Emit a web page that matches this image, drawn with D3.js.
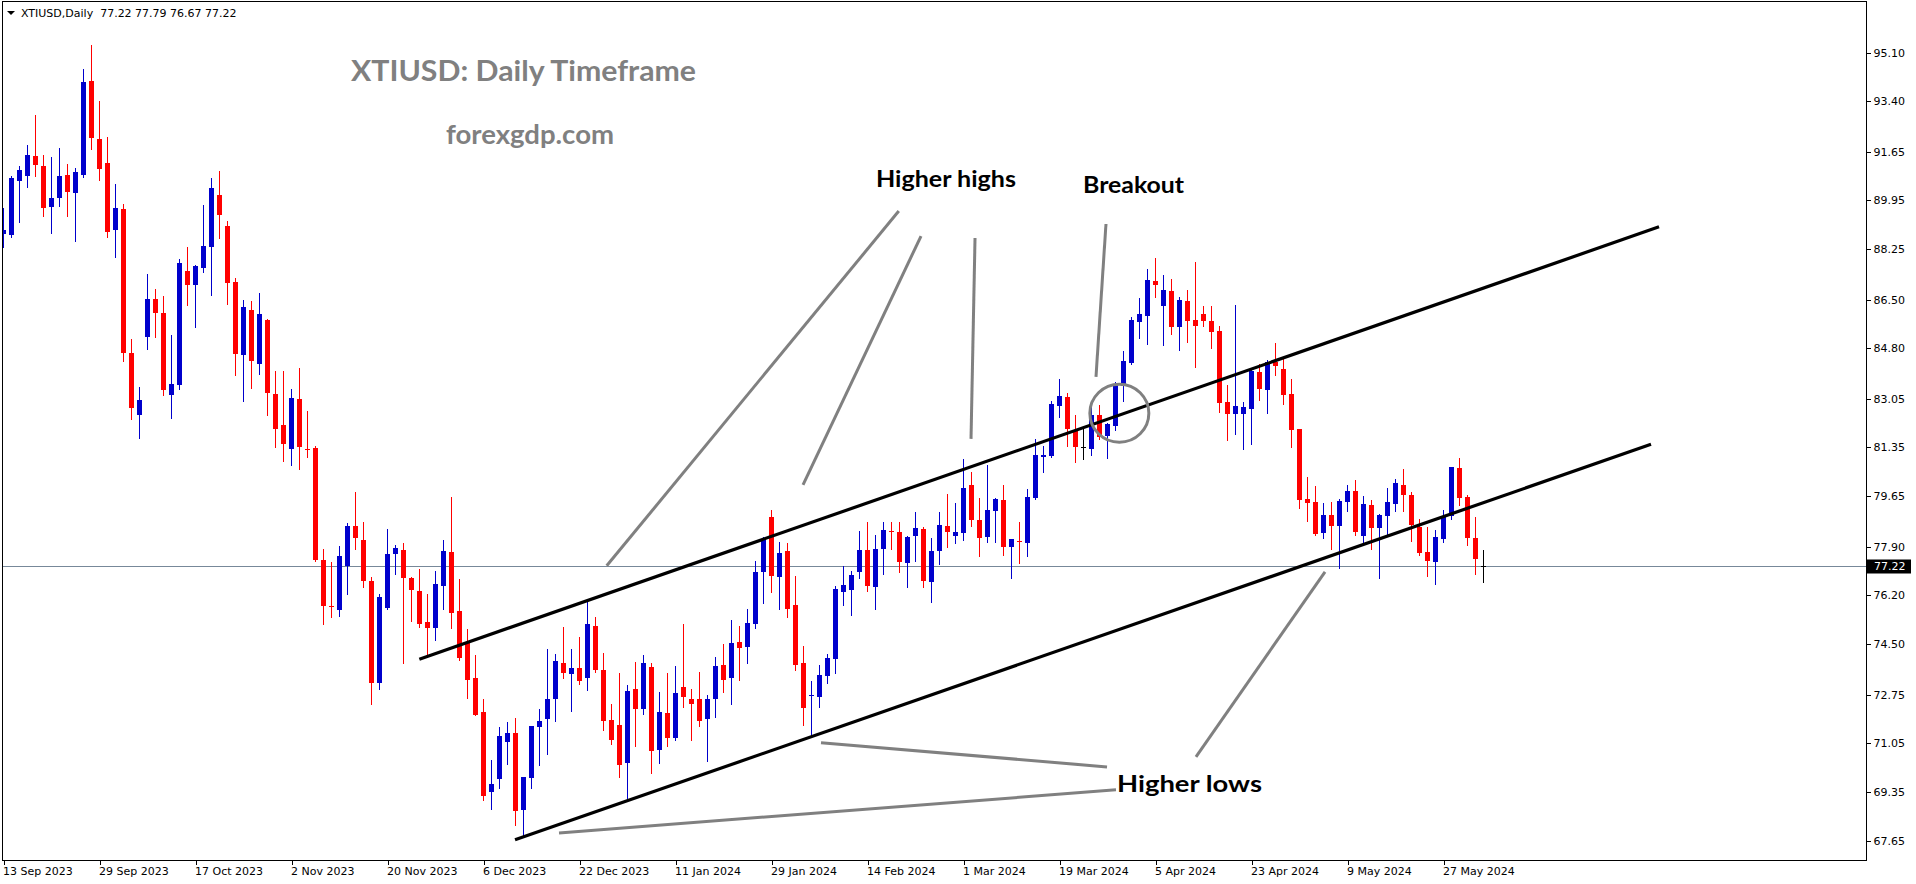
<!DOCTYPE html>
<html><head><meta charset="utf-8">
<script src="https://cdn.jsdelivr.net/npm/d3@7/dist/d3.min.js"></script>
<style>html,body{margin:0;padding:0;background:#fff;overflow:hidden}</style>
</head><body>
<svg id="chart" width="1916" height="884" xmlns="http://www.w3.org/2000/svg"></svg>
<script>
// ---------------- DATA ----------------
const header = "XTIUSD,Daily  77.22 77.79 76.67 77.22";
const openP = [88.78,88.76,90.64,90.81,91.50,91.15,89.73,90.05,90.84,90.22,90.84,94.11,92.09,91.25,88.93,89.65,84.65,82.49,85.21,86.52,
86.03,83.19,83.54,87.50,87.02,87.61,88.34,90.14,89.06,87.11,84.58,86.14,84.27,85.79,83.21,82.13,81.31,83.04,81.31,81.34,
77.44,75.82,75.70,77.23,78.62,78.13,76.70,73.15,75.76,77.65,77.78,76.81,76.36,75.28,75.05,76.54,77.71,75.66,74.55,73.33,
72.15,69.37,69.82,71.11,71.41,68.74,69.86,71.63,71.91,72.61,73.85,73.48,73.68,73.34,75.14,73.61,71.87,71.69,70.38,72.95,
72.26,73.71,70.83,72.11,71.25,73.02,72.60,72.60,71.91,72.61,73.78,73.34,74.58,74.42,75.22,77.00,78.93,76.85,77.75,75.87,
73.85,72.73,72.68,73.41,74.00,76.33,76.40,77.00,77.78,76.50,77.83,78.45,78.41,77.34,78.28,78.51,76.65,77.76,78.62,78.28,
78.38,80.05,78.83,78.25,79.15,79.52,77.90,78.11,78.04,79.60,81.02,81.04,82.81,83.11,81.93,81.37,81.31,82.48,81.76,82.11,
83.50,84.30,85.73,85.94,87.15,86.29,86.80,85.56,86.45,85.79,86.00,85.76,85.41,82.92,82.53,82.53,82.70,83.98,83.36,84.33,
84.08,83.21,81.99,79.56,79.45,78.38,79.00,78.63,79.46,79.84,78.28,79.35,78.56,78.98,79.39,80.05,79.70,78.59,77.71,77.38,
78.18,78.98,80.64,79.63,78.20,77.22];
const highP = [89.68,90.80,91.15,91.87,92.92,91.52,91.46,91.78,91.21,91.08,94.51,95.36,93.41,92.16,90.52,89.83,85.13,83.46,87.39,86.87,
86.62,85.27,87.91,88.33,87.70,89.79,90.73,90.97,89.23,87.25,86.49,86.45,86.73,85.82,84.02,84.02,83.39,84.12,82.62,81.40,
77.82,77.36,77.92,78.73,79.80,78.76,76.84,76.26,78.51,77.96,78.01,76.85,77.12,76.25,77.05,78.13,79.63,76.77,75.03,74.13,
72.60,70.47,71.62,71.80,71.94,69.88,71.66,72.25,74.35,74.16,75.10,74.35,74.76,76.04,75.45,74.20,72.42,73.50,73.08,73.88,
74.13,73.85,72.84,73.50,73.75,75.22,72.94,73.54,72.74,74.06,74.51,75.35,75.14,75.73,77.40,78.24,79.18,78.06,78.03,76.88,
74.44,73.23,73.78,74.16,76.54,77.23,77.05,78.44,78.76,78.30,78.76,78.76,78.76,78.27,79.11,78.58,78.20,79.11,79.73,79.42,
80.95,80.50,79.59,80.74,79.59,80.05,78.17,78.76,79.91,81.65,81.40,82.97,83.72,83.25,82.48,82.00,82.97,82.83,82.20,83.63,
84.71,85.89,86.55,87.56,87.95,87.36,87.22,86.59,86.83,87.81,86.28,86.28,85.58,83.53,86.31,82.93,84.05,84.26,84.40,84.99,
84.43,83.72,81.99,80.33,80.01,79.42,79.45,79.56,80.05,80.22,79.66,79.52,79.04,79.94,80.25,80.60,79.80,78.86,78.58,78.49,
79.18,80.67,80.99,79.70,78.93,77.79];
const lowP = [88.32,88.69,89.20,90.43,90.81,89.42,88.83,89.76,89.42,88.55,90.78,91.73,90.67,88.69,87.99,84.37,82.35,81.69,84.79,85.21,
83.19,82.39,83.40,86.32,85.56,87.47,86.67,88.65,86.36,83.89,82.98,83.43,83.92,82.49,81.38,80.89,80.75,80.61,81.03,77.40,
75.22,75.46,75.50,76.26,77.83,76.50,72.43,72.95,75.71,76.96,73.83,75.32,75.11,74.10,74.66,75.71,75.08,73.95,72.64,72.02,
69.09,68.78,69.51,70.34,68.22,67.80,69.51,70.31,70.69,71.84,73.34,72.19,73.13,72.92,73.55,71.53,71.04,69.89,69.13,70.94,
72.08,70.03,70.38,70.94,71.15,72.33,71.18,71.67,70.45,71.95,72.85,72.43,73.27,73.86,75.05,75.95,76.33,75.74,75.46,73.61,
71.69,71.34,72.33,73.16,73.51,75.87,75.52,76.81,76.37,75.74,76.93,77.82,77.00,76.50,77.41,76.50,75.98,77.31,77.90,78.04,
78.14,78.63,77.58,78.07,78.07,77.62,76.82,77.34,77.58,79.57,80.50,81.01,82.42,81.41,80.86,80.96,81.10,81.66,81.00,81.97,
82.98,84.27,85.17,84.96,86.60,84.93,85.31,84.76,85.03,84.16,85.58,84.83,82.60,81.62,81.83,81.31,81.48,83.01,82.56,83.89,
82.88,81.38,79.26,78.80,78.32,78.21,77.83,77.17,79.15,78.32,78.00,77.83,76.82,78.28,79.15,79.15,78.11,77.62,76.89,76.58,
78.07,78.87,79.33,77.97,76.96,76.67];
const closeP = [88.92,90.73,91.01,91.52,91.20,89.70,90.04,90.80,90.24,90.94,94.07,92.13,91.05,88.86,89.69,84.65,82.74,83.00,86.52,86.04,
83.36,83.56,87.77,87.02,87.67,88.37,90.38,89.45,87.09,84.62,86.24,84.37,86.00,83.26,82.00,81.48,83.07,81.38,81.29,77.44,
75.84,75.81,77.58,78.62,78.21,76.70,73.15,76.15,77.64,77.85,76.82,76.40,75.22,75.05,76.60,77.75,75.60,74.03,73.27,72.05,
69.23,69.64,71.31,71.41,68.71,69.88,71.66,71.83,72.60,73.92,73.51,73.68,73.23,75.21,73.62,71.84,71.15,70.31,72.88,72.23,
73.85,70.80,72.15,71.22,72.81,72.68,72.43,71.84,72.60,73.75,73.27,74.55,74.38,75.24,77.02,78.17,76.89,77.68,75.74,73.78,
72.29,72.75,73.43,74.02,76.43,76.56,76.91,77.78,76.54,77.82,78.48,78.43,77.38,78.24,78.55,76.71,77.75,78.65,78.42,78.41,
79.94,78.84,78.21,79.18,79.56,77.90,78.17,78.09,79.63,81.09,81.09,82.87,83.14,82.00,81.38,81.37,82.48,81.73,82.17,83.53,
84.36,85.79,86.00,87.18,87.02,86.83,85.56,86.49,85.76,85.59,85.76,85.38,82.91,82.53,82.80,82.76,84.01,83.40,84.33,84.20,
83.19,81.97,79.53,79.43,78.35,79.00,78.63,79.49,79.84,78.42,79.39,78.56,79.00,79.45,80.11,79.71,78.66,77.69,77.41,78.25,
78.98,80.67,79.60,78.21,77.48,77.22];
const xTickIndex = [0,12,24,36,48,60,72,84,96,108,120,132,144,156,168,180];
const xTickLabels = ["13 Sep 2023","29 Sep 2023","17 Oct 2023","2 Nov 2023","20 Nov 2023","6 Dec 2023","22 Dec 2023",
  "11 Jan 2024","29 Jan 2024","14 Feb 2024","1 Mar 2024","19 Mar 2024","5 Apr 2024","23 Apr 2024","9 May 2024","27 May 2024"];
const yTicks = [95.10,93.40,91.65,89.95,88.25,86.50,84.80,83.05,81.35,79.65,77.90,76.20,74.50,72.75,71.05,69.35,67.65];
const lastPrice = 77.22;
// trend lines: [[barIndex, price],[barIndex, price]]
const channelLines = [
  [[51.98,73.98],[206.94,89.03]],
  [[63.94,67.69],[205.94,81.46]]
];
const pointerLines = [
  [[111.91,89.58],[75.40,77.23]],
  [[114.69,88.71],[99.94,80.05]],
  [[121.44,88.64],[120.94,81.65]],
  [[137.81,89.13],[136.56,83.81]],
  [[102.19,71.07],[137.94,70.23]],
  [[69.44,67.93],[139.06,69.43]],
  [[165.19,77.02],[149.06,70.58]]
];
const breakoutCircle = [139.48,82.54];
const annotations = [
  {text:"Higher highs", i:109.06, p:90.42, w:140, size:22},
  {text:"Breakout",     i:134.94, p:90.21, w:101, size:22},
  {text:"Higher lows",  i:139.19, p:69.36, w:145, size:23}
];

// ---------------- LAYOUT ----------------
const W = 1916, H = 884;
const plotL = 2.5, plotR = 1866.5, plotT = 1.5, plotB = 860.5;
const svg = d3.select("#chart");
const x = d3.scaleLinear().domain([0, openP.length - 1]).range([3.5, 3.5 + 8 * (openP.length - 1)]);
const y = d3.scaleLinear().domain([67.65, 95.10]).range([841, 52.5]);
const BLUE = "#0000cc", RED = "#ff0000";
const axisFont = "'DejaVu Sans', Verdana, sans-serif";

svg.append("rect").attr("width", W).attr("height", H).attr("fill", "#fff");

const defs = svg.append("defs");
defs.append("clipPath").attr("id", "plotClip").append("rect")
  .attr("x", plotL + 0.5).attr("y", plotT + 0.5).attr("width", plotR - plotL - 1).attr("height", plotB - plotT - 1);

const plot = svg.append("g").attr("clip-path", "url(#plotClip)");

// last price line
plot.append("line")
  .attr("x1", plotL).attr("x2", plotR)
  .attr("y1", Math.round(y(lastPrice)) + 0.5).attr("y2", Math.round(y(lastPrice)) + 0.5)
  .attr("stroke", "#778899").attr("stroke-width", 1).attr("shape-rendering", "crispEdges");

// candles
const bars = d3.range(openP.length).map(i => ({i, o: openP[i], h: highP[i], l: lowP[i], c: closeP[i]}));
const colorOf = d => d.c > d.o ? BLUE : (d.c < d.o ? RED : "#000");
const cg = plot.append("g").attr("shape-rendering", "crispEdges");
cg.selectAll("line.wick").data(bars).join("line").attr("class", "wick")
  .attr("x1", d => x(d.i)).attr("x2", d => x(d.i))
  .attr("y1", d => Math.round(y(d.h))).attr("y2", d => Math.round(y(d.l)) + 1)
  .attr("stroke", colorOf).attr("stroke-width", 1);
cg.selectAll("rect.body").data(bars.filter(d => d.o !== d.c)).join("rect").attr("class", "body")
  .attr("x", d => x(d.i) - 2.5).attr("width", 5)
  .attr("y", d => Math.round(y(Math.max(d.o, d.c))))
  .attr("height", d => Math.max(1, Math.round(y(Math.min(d.o, d.c))) - Math.round(y(Math.max(d.o, d.c)))))
  .attr("fill", colorOf);
cg.selectAll("line.doji").data(bars.filter(d => d.o === d.c)).join("line").attr("class", "doji")
  .attr("x1", d => x(d.i) - 2.5).attr("x2", d => x(d.i) + 2.5)
  .attr("y1", d => Math.round(y(d.o)) + 0.5).attr("y2", d => Math.round(y(d.o)) + 0.5)
  .attr("stroke", "#000").attr("stroke-width", 1);

// channel lines
const lineGen = d3.line().x(d => x(d[0])).y(d => y(d[1]));
svg.append("g").selectAll("path").data(channelLines).join("path")
  .attr("d", lineGen).attr("fill", "none").attr("stroke", "#000").attr("stroke-width", 3.2);

// pointer lines
svg.append("g").selectAll("path").data(pointerLines).join("path")
  .attr("d", lineGen).attr("fill", "none").attr("stroke", "#808080").attr("stroke-width", 3);

// breakout circle
svg.append("ellipse")
  .attr("cx", x(breakoutCircle[0])).attr("cy", y(breakoutCircle[1]))
  .attr("rx", 29.5).attr("ry", 29).attr("fill", "none").attr("stroke", "#808080").attr("stroke-width", 3);

// annotations
const annFont = "Lato, 'Open Sans', sans-serif";
svg.append("g").selectAll("text").data(annotations).join("text")
  .attr("x", d => x(d.i)).attr("y", d => y(d.p))
  .attr("font-family", annFont).attr("font-weight", "bold").attr("font-size", d => d.size)
  .attr("fill", "#000").attr("textLength", d => d.w).attr("lengthAdjust", "spacingAndGlyphs")
  .text(d => d.text);

// title & watermark
svg.append("text").attr("x", 351).attr("y", 81)
  .attr("font-family", annFont).attr("font-weight", "bold").attr("font-size", 28)
  .attr("fill", "#808080").attr("textLength", 345).attr("lengthAdjust", "spacingAndGlyphs")
  .text("XTIUSD: Daily Timeframe");
svg.append("text").attr("x", 446).attr("y", 144)
  .attr("font-family", annFont).attr("font-weight", "bold").attr("font-size", 27)
  .attr("fill", "#808080").attr("textLength", 168).attr("lengthAdjust", "spacingAndGlyphs")
  .text("forexgdp.com");

// frame
svg.append("rect").attr("x", plotL).attr("y", plotT).attr("width", plotR - plotL).attr("height", plotB - plotT)
  .attr("fill", "none").attr("stroke", "#000").attr("stroke-width", 1).attr("shape-rendering", "crispEdges");

// header
svg.append("path").attr("d", "M7,11 L15,11 L11,15 Z").attr("fill", "#000");
svg.append("text").attr("x", 21).attr("y", 17).attr("font-family", axisFont).attr("font-size", 11)
  .attr("fill", "#000").attr("xml:space", "preserve").style("white-space", "pre").text(header);

// y axis
const yAxis = d3.axisRight(y).tickValues(yTicks).tickFormat(d3.format(".2f")).tickSize(4).tickPadding(3);
const gy = svg.append("g").attr("transform", `translate(${plotR},0)`).call(yAxis);
gy.select(".domain").remove();
gy.selectAll("line").attr("stroke", "#000").attr("shape-rendering", "crispEdges");
gy.selectAll("text").attr("font-family", axisFont).attr("font-size", 11).attr("fill", "#000");

// last price label
const lp = svg.append("g").attr("transform", `translate(${plotR + 0.5},${Math.round(y(lastPrice)) + 0.5})`);
lp.append("rect").attr("x", 0).attr("y", -7).attr("width", 44).attr("height", 14).attr("fill", "#000");
lp.append("text").attr("x", 7).attr("dy", "0.36em").attr("font-family", axisFont).attr("font-size", 11)
  .attr("fill", "#fff").text(d3.format(".2f")(lastPrice));

// x axis
const xAxis = d3.axisBottom(x).tickValues(xTickIndex).tickFormat((d, k) => xTickLabels[k]).tickSize(4).tickPadding(3);
const gx = svg.append("g").attr("transform", `translate(0,${plotB})`).call(xAxis);
gx.select(".domain").remove();
gx.selectAll("line").attr("stroke", "#000").attr("shape-rendering", "crispEdges");
gx.selectAll("text").attr("font-family", axisFont).attr("font-size", 11).attr("fill", "#000")
  .attr("text-anchor", "start").attr("x", -1);
</script>
</body></html>
